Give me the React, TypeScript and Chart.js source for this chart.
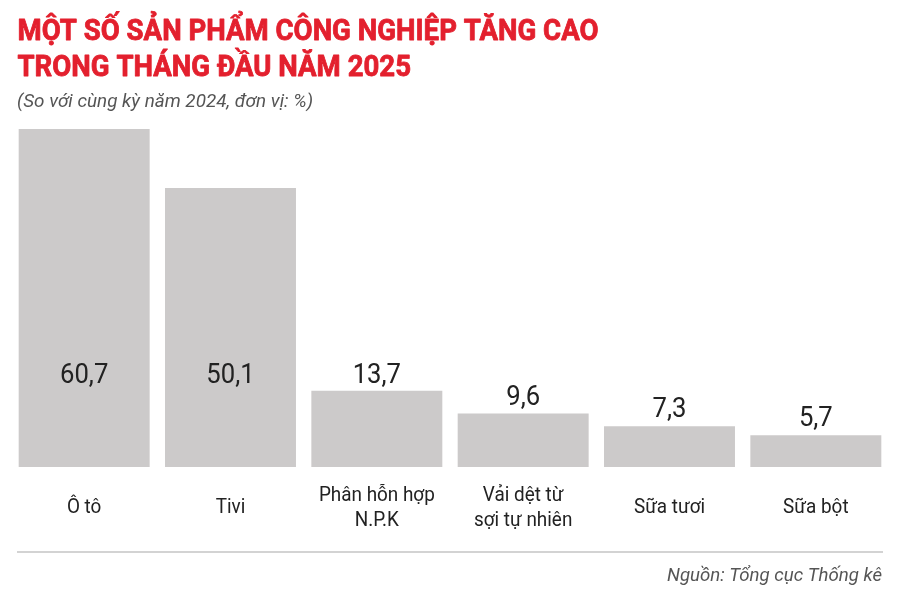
import React, { useEffect, useRef } from 'react';
import { Chart, registerables } from 'chart.js';

Chart.register(...registerables);

const categoryLines: string[][] = [
  ['Ô tô'],
  ['Tivi'],
  ['Phân hỗn hợp', 'N.P.K'],
  ['Vải dệt từ', 'sợi tự nhiên'],
  ['Sữa tươi'],
  ['Sữa bột'],
];
const values: number[] = [60.7, 50.1, 13.7, 9.6, 7.3, 5.7];
const valueLabels: string[] = ['60,7', '50,1', '13,7', '9,6', '7,3', '5,7'];
const titleLines: string[] = ['MỘT SỐ SẢN PHẨM CÔNG NGHIỆP TĂNG CAO', 'TRONG THÁNG ĐẦU NĂM 2025'];
const subtitle = '(So với cùng kỳ năm 2024, đơn vị: %)';
const source = 'Nguồn: Tổng cục Thống kê';

const RED = '#e3202e';
const BAR = '#cccaca';
const TEXT = '#222222';
const GREY = '#555555';
const LABEL_FLOOR_VALUE = 15;

function drawScaled(
  ctx: CanvasRenderingContext2D,
  text: string,
  x: number,
  y: number,
  sx: number,
  align: CanvasTextAlign,
  strokeW = 0
) {
  ctx.save();
  ctx.translate(x, y);
  ctx.scale(sx, 1);
  ctx.textAlign = align;
  ctx.fillText(text, 0, 0);
  if (strokeW > 0) {
    ctx.lineWidth = strokeW;
    ctx.strokeStyle = ctx.fillStyle as string;
    ctx.lineJoin = 'round';
    ctx.strokeText(text, 0, 0);
  }
  ctx.restore();
}

const decorPlugin = {
  id: 'decor',
  afterDraw(chart: any) {
    const ctx: CanvasRenderingContext2D = chart.ctx;
    const area = chart.chartArea;
    const yScale = chart.scales.y;
    ctx.save();
    ctx.textBaseline = 'alphabetic';

    // Title
    ctx.font = 'bold 29px Roboto';
    ctx.fillStyle = RED;
    const w1 = ctx.measureText(titleLines[0]).width;
    const tsx = 581 / w1;
    drawScaled(ctx, titleLines[0], 17.5, 40, tsx, 'left', 0.8);
    drawScaled(ctx, titleLines[1], 17.5, 76, tsx, 'left', 0.8);

    // Subtitle
    ctx.font = 'italic 19px Roboto';
    ctx.fillStyle = GREY;
    const ws = ctx.measureText(subtitle).width;
    drawScaled(ctx, subtitle, 17, 107, 296 / ws, 'left');

    // Values and categories
    const meta = chart.getDatasetMeta(0);
    const floorY = yScale.getPixelForValue(LABEL_FLOOR_VALUE);
    meta.data.forEach((bar: any, i: number) => {
      ctx.fillStyle = TEXT;
      ctx.font = '27px Roboto';
      const by = Math.max(bar.y - 9, floorY);
      drawScaled(ctx, valueLabels[i], bar.x, by, 0.95, 'center');

      ctx.font = '21px Roboto';
      const lines = categoryLines[i];
      const base = area.bottom + 46 - (lines.length - 1) * 12.5;
      lines.forEach((ln, j) => {
        drawScaled(ctx, ln, bar.x, base + j * 25, 0.9, 'center');
      });
    });

    // Separator
    ctx.strokeStyle = '#d3d3d3';
    ctx.lineWidth = 2;
    ctx.beginPath();
    ctx.moveTo(17, 552);
    ctx.lineTo(883, 552);
    ctx.stroke();

    // Source
    ctx.font = 'italic 18px Roboto';
    ctx.fillStyle = GREY;
    const wsrc = ctx.measureText(source).width;
    drawScaled(ctx, source, 882, 581, 215 / wsrc, 'right');

    ctx.restore();
  },
};

export default function App() {
  const ref = useRef<HTMLCanvasElement | null>(null);
  useEffect(() => {
    if (!ref.current) return;
    const chart = new Chart(ref.current, {
      type: 'bar',
      data: {
        labels: categoryLines.map((l) => l.join(' ')),
        datasets: [
          {
            data: values,
            backgroundColor: BAR,
            borderWidth: 0,
            barPercentage: 0.895,
            categoryPercentage: 1,
          },
        ],
      },
      options: {
        responsive: false,
        animation: false,
        layout: { padding: { left: 11, right: 11, top: 129, bottom: 126 } },
        scales: {
          x: { display: false },
          y: { display: false, min: 0, max: 60.7 },
        },
        plugins: {
          legend: { display: false },
          tooltip: { enabled: false },
          title: { display: false },
        },
      },
      plugins: [decorPlugin],
    });
    return () => chart.destroy();
  }, []);
  return (
    <div style={{ position: 'fixed', left: 0, top: 0, width: 900, height: 593, background: '#fff' }}>
      <canvas ref={ref} width={900} height={593} style={{ display: 'block' }} />
    </div>
  );
}
